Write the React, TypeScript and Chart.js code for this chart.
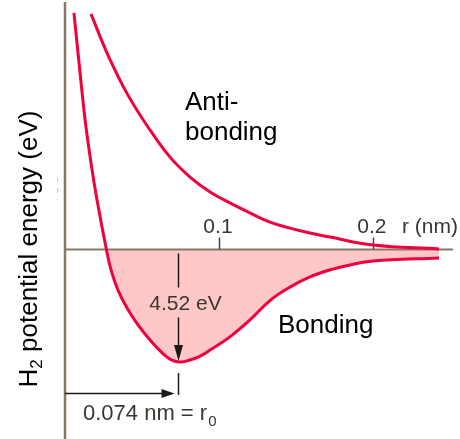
import React, { useEffect, useRef } from 'react';
import { Chart, registerables } from 'chart.js';

Chart.register(...registerables);

// r in nm, energy in eV
const rBonding = [0.0058, 0.0094, 0.013, 0.0169, 0.0208, 0.0269, 0.0299, 0.0344, 0.0403, 0.0474, 0.0552, 0.0636, 0.0685, 0.074, 0.0795, 0.0872, 0.0942, 0.1071, 0.1201, 0.1331, 0.1461, 0.1591, 0.1721, 0.1851, 0.2, 0.2429];
const eBonding = [9.5, 7.33, 5.24, 3.47, 1.99, 0, -0.82, -1.63, -2.35, -3.03, -3.63, -4.18, -4.41, -4.52, -4.47, -4.3, -4.04, -3.51, -2.83, -2.05, -1.51, -1.1, -0.82, -0.62, -0.46, -0.34];

const rAnti = [0.0169, 0.0279, 0.0409, 0.0552, 0.0682, 0.0812, 0.0942, 0.1071, 0.1201, 0.1331, 0.1461, 0.1591, 0.1721, 0.2, 0.2429];
const eAnti = [9.46, 7.81, 6.2, 4.8, 3.71, 2.91, 2.31, 1.87, 1.47, 1.1, 0.86, 0.66, 0.5, 0.18, 0.02];

const xTickValues = [0.1, 0.2];
const xTickLabels = ['0.1', '0.2'];
const xAxisTitle = 'r (nm)';
const r0 = 0.074;
const bondEnergy = -4.52;
const bondEnergyLabel = '4.52 eV';
const r0LabelMain = '0.074 nm = r';
const r0LabelSub = '0';

const FONT = '"Liberation Sans", Arial, sans-serif';
const CURVE = '#f0003c';
const FILL = '#ffc8c8';
const AXIS = '#857868';
const DARK = '#3a3632';

export default function App() {
  const ref = useRef<HTMLCanvasElement>(null);

  useEffect(() => {
    const canvas = ref.current;
    if (!canvas) return;

    const overlay = {
      id: 'overlay',
      beforeDatasetsDraw(chart: any) {
        const { ctx, chartArea, scales } = chart;
        const xs = scales.x;
        const ys = scales.y;
        const y0 = ys.getPixelForValue(0);
        ctx.save();
        ctx.strokeStyle = AXIS;
        ctx.lineWidth = 2.5;
        ctx.beginPath();
        ctx.moveTo(chartArea.left, chartArea.top);
        ctx.lineTo(chartArea.left, chartArea.bottom);
        ctx.stroke();
        ctx.lineWidth = 2;
        ctx.beginPath();
        ctx.moveTo(chartArea.left, y0);
        ctx.lineTo(chartArea.right, y0);
        ctx.stroke();
        ctx.strokeStyle = '#4a4038';
        ctx.lineWidth = 1.5;
        xTickValues.forEach((v) => {
          const px = Math.round(xs.getPixelForValue(v)) + 0.5;
          ctx.beginPath();
          ctx.moveTo(px, y0);
          ctx.lineTo(px, y0 - 12);
          ctx.stroke();
        });
        ctx.strokeStyle = '#d9c9a9';
        ctx.lineWidth = 1;
        ctx.setLineDash([5, 6]);
        ctx.beginPath();
        ctx.moveTo(57.5, 177);
        ctx.lineTo(57.5, 200);
        ctx.stroke();
        ctx.restore();
      },
      afterDatasetsDraw(chart: any) {
        const { ctx, scales } = chart;
        const xs = scales.x;
        const ys = scales.y;
        const y0 = ys.getPixelForValue(0);
        const xr0 = xs.getPixelForValue(r0) - 1;
        const yMin = ys.getPixelForValue(bondEnergy);
        ctx.save();
        ctx.textBaseline = 'alphabetic';

        ctx.fillStyle = DARK;
        ctx.font = `21px ${FONT}`;
        ctx.textAlign = 'center';
        xTickValues.forEach((v, i) => {
          ctx.fillText(xTickLabels[i], xs.getPixelForValue(v) - 1, y0 - 17);
        });
        ctx.textAlign = 'left';
        ctx.fillText(xAxisTitle, 402, y0 - 17);

        ctx.fillStyle = '#000';
        ctx.font = `26px ${FONT}`;
        ctx.fillText('Anti-', 185, 110);
        ctx.fillText('bonding', 185, 140);
        ctx.fillText('Bonding', 278, 333);

        ctx.strokeStyle = '#1a1a1a';
        ctx.fillStyle = '#1a1a1a';
        ctx.lineWidth = 1.5;
        const ax = Math.round(xr0) + 0.5;
        ctx.beginPath();
        ctx.moveTo(ax, y0 + 4);
        ctx.lineTo(ax, y0 + 38);
        ctx.moveTo(ax, y0 + 68);
        ctx.lineTo(ax, yMin - 14);
        ctx.stroke();
        ctx.beginPath();
        ctx.moveTo(ax, yMin - 1);
        ctx.lineTo(ax - 4.5, yMin - 17);
        ctx.lineTo(ax + 4.5, yMin - 17);
        ctx.closePath();
        ctx.fill();

        ctx.fillStyle = DARK;
        ctx.font = `21px ${FONT}`;
        ctx.textAlign = 'center';
        ctx.fillText(bondEnergyLabel, ax + 7, y0 + 60);

        ctx.strokeStyle = '#1a1a1a';
        ctx.fillStyle = '#1a1a1a';
        ctx.beginPath();
        ctx.moveTo(ax, 373);
        ctx.lineTo(ax, 395);
        ctx.stroke();
        const hy = 393.5;
        ctx.beginPath();
        ctx.moveTo(chart.chartArea.left, hy);
        ctx.lineTo(ax - 12, hy);
        ctx.stroke();
        ctx.beginPath();
        ctx.moveTo(ax - 4, hy);
        ctx.lineTo(ax - 17, hy - 4.5);
        ctx.lineTo(ax - 17, hy + 4.5);
        ctx.closePath();
        ctx.fill();

        ctx.fillStyle = DARK;
        ctx.textAlign = 'left';
        ctx.font = `22px ${FONT}`;
        ctx.fillText(r0LabelMain, 83, 420);
        const wMain = ctx.measureText(r0LabelMain).width;
        ctx.font = `15px ${FONT}`;
        ctx.fillText(r0LabelSub, 83 + wMain + 1, 426);

        ctx.fillStyle = '#000';
        ctx.translate(37, 249);
        ctx.rotate(-Math.PI / 2);
        ctx.font = `26px ${FONT}`;
        const wH = ctx.measureText('H').width;
        const rest = ' potential energy (eV)';
        const wRest = ctx.measureText(rest).width;
        ctx.font = `17px ${FONT}`;
        const w2 = ctx.measureText('2').width;
        const total = wH + w2 + wRest;
        let sx = -total / 2;
        ctx.font = `26px ${FONT}`;
        ctx.fillText('H', sx, 0);
        sx += wH;
        ctx.font = `17px ${FONT}`;
        ctx.fillText('2', sx, 5);
        sx += w2;
        ctx.font = `26px ${FONT}`;
        ctx.fillText(rest, sx, 0);

        ctx.restore();
      },
    };

    const chart = new Chart(canvas, {
      type: 'line',
      data: {
        datasets: [
          {
            label: 'Bonding',
            data: rBonding.map((r, i) => ({ x: r, y: eBonding[i] })),
            borderColor: CURVE,
            borderWidth: 3,
            pointRadius: 0,
            tension: 0.4,
            fill: { target: { value: 0 }, above: 'rgba(0,0,0,0)', below: FILL },
          },
          {
            label: 'Anti-bonding',
            data: rAnti.map((r, i) => ({ x: r, y: eAnti[i] })),
            borderColor: CURVE,
            borderWidth: 3,
            pointRadius: 0,
            tension: 0.4,
            fill: false,
          },
        ],
      },
      options: {
        animation: false,
        responsive: false,
        layout: { padding: { left: 65, right: 7, top: 2, bottom: 0 } },
        scales: {
          x: { type: 'linear', min: 0, max: 0.252, display: false },
          y: { type: 'linear', min: -7.61, max: 9.94, display: false },
        },
        plugins: {
          legend: { display: false },
          tooltip: { enabled: false },
          filler: { drawTime: 'beforeDraw' },
        },
      },
      plugins: [overlay],
    } as any);

    return () => chart.destroy();
  }, []);

  return (
    <div style={{ position: 'fixed', left: 0, top: 0, width: 460, height: 439, background: '#fff' }}>
      <canvas ref={ref} width={460} height={439} style={{ display: 'block', width: 460, height: 439 }} />
    </div>
  );
}
